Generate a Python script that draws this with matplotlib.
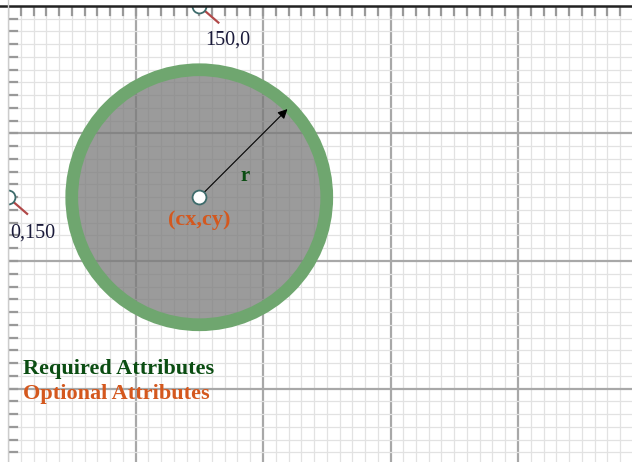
import numpy as np
import matplotlib.pyplot as plt
from matplotlib.patches import Circle, Rectangle

# circle attributes (svg user units)
cx, cy, r = 150, 150, 100
stroke_w = 10

# reference points on the edges
ref_points = [(150, 0), (0, 150)]
ref_labels = ['150,0', '0,150']
ref_label_pos = [(155, 27), (1.5, 178)]

legend_labels = ['Required Attributes', 'Optional Attributes']
legend_colors = ['#0b4d12', '#d4581e']

px = 1.275  # pixels per unit
W, H = 632, 462
x0, y0 = 8, 6  # pixel of origin

fig = plt.figure(figsize=(W / 100, H / 100), dpi=100)
ax = fig.add_axes([0, 0, 1, 1])
ax.set_xlim(-x0 / px, (W - x0) / px)
ax.set_ylim((H - y0) / px, -y0 / px)
ax.axis('off')

serif = 'Liberation Serif'

# grid
xmax = (W - x0) / px
ymax = (H - y0) / px
for v in np.arange(0, xmax, 10):
    major = v % 100 == 0
    ax.axvline(v, color='#a8a8a8' if major else '#e2e2e2',
               lw=1.6 if major else 0.9, zorder=1)
for v in np.arange(0, ymax, 10):
    major = v % 100 == 0
    ax.axhline(v, color='#a8a8a8' if major else '#e2e2e2',
               lw=1.6 if major else 0.9, zorder=1)

# rulers
for v in np.arange(0, xmax, 10):
    ax.plot([v, v], [0, 7], color='#999999', lw=1.6, zorder=2)
for v in np.arange(0, ymax, 10):
    ax.plot([0, 7], [v, v], color='#999999', lw=1.6, zorder=2)

# the circle
ax.add_patch(Circle((cx, cy), r, facecolor='#7a7a7a', alpha=0.75,
                    edgecolor='none', zorder=4))
ax.add_patch(Circle((cx, cy), r, facecolor='none', edgecolor='#6fa66f',
                    lw=stroke_w * px * 0.72, zorder=5))

# radius arrow
ang = np.deg2rad(45)
ax.annotate('', xy=(cx + r * np.cos(ang), cy - r * np.sin(ang)),
            xytext=(cx, cy),
            arrowprops=dict(arrowstyle='-|>', color='black', lw=0.8,
                            mutation_scale=14), zorder=6)
ax.text(cx + 36, cy - 17, 'r', color='#0b4d12', fontsize=15,
        fontweight='bold', family=serif, ha='center', va='center', zorder=7)

# center point
ax.plot(cx, cy, 'o', ms=10, mfc='white', mec='#3d6b6b', mew=1.3, zorder=8)
ax.text(cx, cy + 18, '(cx,cy)', color='#d4581e', fontsize=16,
        fontweight='bold', family=serif, ha='center', va='center', zorder=7)

# reference points
for (x, y), lab, (lx, ly) in zip(ref_points, ref_labels, ref_label_pos):
    ax.plot([x, x + 15], [y, y + 13], color='#b04848', lw=1.6, zorder=6)
    ax.plot(x, y, 'o', ms=10, mfc='white', mec='#3d6b6b', mew=1.3, zorder=7)
    ax.text(lx, ly, lab, color='#1a1a3a', fontsize=14.5, family=serif,
            ha='left', va='center', zorder=7)

# blank margin outside the drawing area
ax.add_patch(Rectangle((-20, -20), 700, 20, facecolor='white',
                       edgecolor='none', zorder=9))
ax.add_patch(Rectangle((-20, -20), 20, 400, facecolor='white',
                       edgecolor='none', zorder=9))
ax.axhline(0, color='#222222', lw=1.8, zorder=10)
ax.axvline(0, color='#cccccc', lw=1.0, zorder=10)

# legend text
for i, (lab, col) in enumerate(zip(legend_labels, legend_colors)):
    ax.text(12, 284.5 + i * 19.5, lab, color=col, fontsize=16,
            fontweight='bold', family=serif, ha='left', va='center', zorder=7)

fig.savefig('out.png', dpi=100)
